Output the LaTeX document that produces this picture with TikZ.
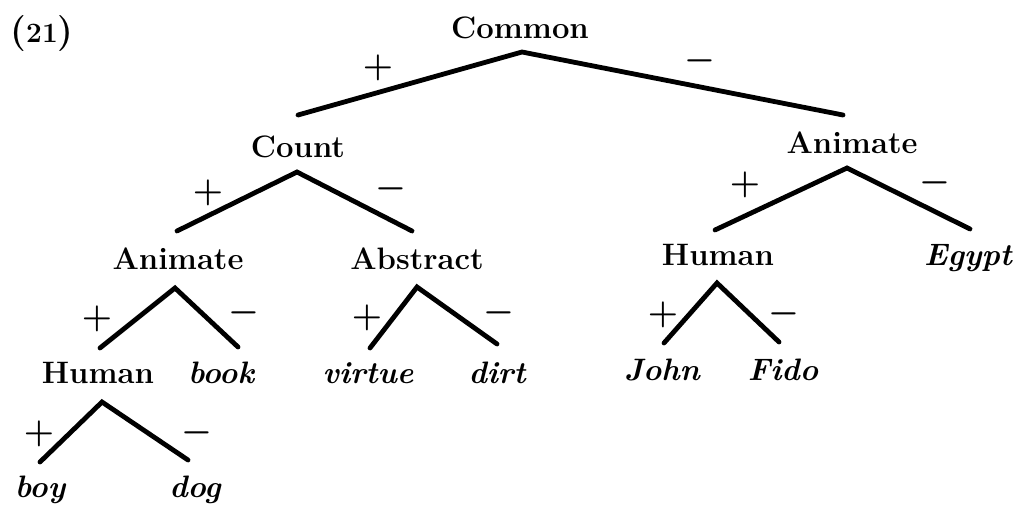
\documentclass[tikz,border=0pt]{standalone}
\begin{document}
\begin{tikzpicture}[x=0.5pt,y=-0.5pt,
  lab/.style={font=\fontsize{15.5}{18}\selectfont\bfseries, anchor=base, inner sep=0pt},
  word/.style={font=\fontsize{15.5}{18}\selectfont\bfseries\itshape, anchor=base, inner sep=0pt},
  sgn/.style={font=\fontsize{16.5}{18}\selectfont\boldmath, inner sep=0pt},
  branch/.style={line width=2.4pt, line cap=round, line join=miter}]
\useasboundingbox (0,0) rectangle (1021,504);
% labels
\node[lab, font=\fontsize{18}{20}\selectfont\bfseries] (num) at (42,42) {({\fontsize{14}{16}\selectfont 21})};
\node[lab] (common) at (520,38) {Common};
\node[lab] (count) at (298,157) {Count};
\node[lab] (animR) at (852,153) {Animate};
\node[lab] (animL) at (178,269) {Animate};
\node[lab] (abstr) at (417,269) {Abstract};
\node[lab] (humR) at (718,265) {Human};
\node[word] (egypt) at (968,265) {Egypt};
\node[lab] (humL) at (98,383) {Human};
\node[word] (book) at (221,383) {book};
\node[word] (virtue) at (368,383) {virtue};
\node[word] (dirt) at (497,383) {dirt};
\node[word] (john) at (662,380) {John};
\node[word] (fido) at (783,380) {Fido};
\node[word] (boy) at (40,497) {boy};
\node[word] (dog) at (195,497) {dog};
% branch points
\coordinate (cmA) at (522,52); \coordinate (cmL) at (298,115); \coordinate (cmR) at (843,115);
\coordinate (coA) at (297,172); \coordinate (coL) at (177,231); \coordinate (coR) at (412,231);
\coordinate (arA) at (847,168); \coordinate (arL) at (715,230); \coordinate (arR) at (970,229);
\coordinate (alA) at (175,288); \coordinate (alL) at (100,348); \coordinate (alR) at (238,347);
\coordinate (abA) at (417,287); \coordinate (abL) at (370,348); \coordinate (abR) at (497,344);
\coordinate (hrA) at (717,283); \coordinate (hrL) at (664,343); \coordinate (hrR) at (779,342);
\coordinate (hlA) at (102,402); \coordinate (hlL) at (40,462); \coordinate (hlR) at (188,460);
% branches
\draw[branch] (cmL) -- (cmA) -- (cmR);
\draw[branch] (coL) -- (coA) -- (coR);
\draw[branch] (arL) -- (arA) -- (arR);
\draw[branch] (alL) -- (alA) -- (alR);
\draw[branch] (abL) -- (abA) -- (abR);
\draw[branch] (hrL) -- (hrA) -- (hrR);
\draw[branch] (hlL) -- (hlA) -- (hlR);
% signs
\node[sgn] (p1) at (378,68) {$+$};  \node[sgn] (m1) at (700,61) {$-$};
\node[sgn] (p2) at (208,193) {$+$}; \node[sgn] (m2) at (391,189) {$-$};
\node[sgn] (p3) at (745,185) {$+$}; \node[sgn] (m3) at (935,183) {$-$};
\node[sgn] (p4) at (97,319) {$+$};  \node[sgn] (m4) at (244,313) {$-$};
\node[sgn] (p5) at (367,318) {$+$}; \node[sgn] (m5) at (499,313) {$-$};
\node[sgn] (p6) at (663,315) {$+$}; \node[sgn] (m6) at (784,314) {$-$};
\node[sgn] (p7) at (39,434) {$+$};  \node[sgn] (m7) at (197,433) {$-$};
\end{tikzpicture}
\end{document}
